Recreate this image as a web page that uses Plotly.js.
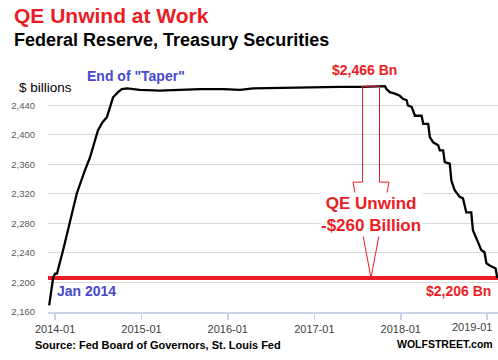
<!DOCTYPE html>
<html><head><meta charset="utf-8">
<script src="https://cdn.plot.ly/plotly-3.0.1.min.js"></script>
<style>html,body{margin:0;padding:0;background:#fff;}#chart{width:498px;height:360px;}</style>
</head><body><div id="chart"></div>
<script>
// Fed holdings of Treasury securities, $ billions
const dates = [
  '2013-12-07','2013-12-24','2014-01-01','2014-01-09','2014-02-04','2014-03-05','2014-04-03',
  '2014-05-07','2014-05-28','2014-07-01','2014-07-20','2014-08-08','2014-09-03','2014-09-24',
  '2014-10-10','2014-11-01','2014-12-25','2015-03-19','2015-06-12','2015-09-05','2015-12-15',
  '2016-02-22','2016-04-17','2016-09-07','2017-01-25','2017-04-20','2017-07-20','2017-10-26',
  '2017-11-02','2017-11-16','2017-12-07','2017-12-28','2018-01-10','2018-01-26','2018-01-31',
  '2018-02-16','2018-03-02','2018-03-30','2018-04-06','2018-04-27','2018-05-04','2018-05-18',
  '2018-06-08','2018-06-15','2018-06-29','2018-07-06','2018-07-27','2018-08-03','2018-08-17',
  '2018-09-07','2018-09-21','2018-10-05','2018-10-26','2018-11-02','2018-11-23','2018-12-07',
  '2018-12-21','2018-12-29','2019-01-12','2019-01-26','2019-02-06','2019-02-13'
];
const treasuries = [
  2169,2207,2212,2212,2244,2284,2321,
  2352,2369,2406,2417,2424,2451,2458,
  2462,2463,2461,2460,2461,2462,2462,
  2461,2463,2464,2464,2465,2465,2466,
  2462,2458,2456,2453,2449,2447,2440,
  2438,2426,2426,2415,2415,2397,2390,
  2386,2379,2379,2363,2361,2338,2325,
  2316,2314,2295,2295,2271,2255,2244,
  2241,2226,2223,2221,2219,2206
];
const yTickVals = [2160,2200,2240,2280,2320,2360,2400,2440];
const xTickVals = ['2014-01-01','2015-01-01','2016-01-01','2017-01-01','2018-01-01','2019-01-01'];
const xTickText = ['2014-01','2015-01','2016-01','2017-01','2018-01','2019-01'];

const peak = Math.max(...treasuries);
const last = treasuries[treasuries.length-1];
const headTop = last + (peak-last)*0.5;

const RED = '#ec1c24', BLUE = '#4848cf';
const F = 'Liberation Sans, Arial, sans-serif';
const XTICKFONT = {family: F, size: 11, color: '#404040'};

const trace = {
  x: dates, y: treasuries, type: 'scatter', mode: 'lines',
  line: {color: '#000', width: 2.3}, hoverinfo: 'skip'
};

const ann = (text, x, y, size, color, xanchor, extra) => Object.assign({
  text, x, y, xref: 'paper', yref: 'paper', showarrow: false,
  xanchor: xanchor || 'center', yanchor: 'middle',
  font: {family: F, size, color}
}, extra || {});

// the last tick label is pulled inside the chart edge, as in the original
const shownTickText = xTickText.map((t, i) => i === xTickText.length - 1 ? '' : t);
const lastTickAnn = Object.assign(ann(xTickText[xTickText.length - 1], 0.992, -0.063, 11, '#404040', 'right'), {font: XTICKFONT});

const layout = {
  width: 498, height: 360,
  margin: {l: 48, r: 0, t: 77, b: 48, pad: 0},
  paper_bgcolor: '#fff', plot_bgcolor: '#fff',
  showlegend: false,
  xaxis: {
    type: 'date', range: ['2013-12-02','2019-02-16'],
    tickvals: xTickVals, ticktext: shownTickText,
    showgrid: false, zeroline: false,
    showline: true, linecolor: '#c9d3e5', linewidth: 1.5,
    ticks: 'outside', ticklen: 6, tickcolor: '#c9d3e5', tickwidth: 1.5,
    ticklabeloverflow: 'allow',
    tickfont: XTICKFONT
  },
  yaxis: {
    range: [2160, 2478.5], tickvals: yTickVals, tickformat: ',d',
    showgrid: true, gridcolor: '#d9d9d9', gridwidth: 1, zeroline: false,
    showline: false, ticks: 'outside', ticklen: 10, tickcolor: 'rgba(0,0,0,0)',
    tickfont: {family: F, size: 9.5, color: '#595959'}
  },
  shapes: [
    {type: 'line', xref: 'paper', yref: 'y', x0: 0, x1: 1, y0: last, y1: last,
     line: {color: RED, width: 4}, layer: 'below'},
    {type: 'path', xref: 'paper', yref: 'y', xsizemode: 'pixel', xanchor: 0.7178,
     path: `M -8.5,${peak} L -8.5,${headTop} L -18,${headTop} L 0,${last} L 18,${headTop} L 8.5,${headTop} L 8.5,${peak} Z`,
     line: {color: RED, width: 1}, fillcolor: 'rgba(0,0,0,0)', layer: 'above'}
  ],
  annotations: [
    ann('<b>QE Unwind at Work</b>', -0.08, 1.262, 21, RED, 'left'),
    ann('<b>Federal Reserve, Treasury Securities</b>', -0.08, 1.158, 18, '#000', 'left'),
    ann('$ billions', -0.068, 0.955, 13.5, '#000', 'left'),
    ann('<b>End of "Taper"</b>', 0.196, 1.006, 14, BLUE),
    ann('<b>$2,466 Bn</b>', 0.703, 1.028, 14, RED),
    ann('<b>QE Unwind<br>-$260 Billion</b>', 0.7178, 0.413, 17, RED, 'center', {bgcolor: '#fff', borderpad: 1}),
    ann('<b>Jan 2014</b>', 0.0156, 0.089, 14, BLUE, 'left'),
    ann('<b>$2,206 Bn</b>', 0.989, 0.089, 14, RED, 'right'),
    ann('<b>Source: Fed Board of Governors, St. Louis Fed</b>', -0.0333, -0.14, 11, '#000', 'left'),
    ann('<b>WOLFSTREET.com</b>', 0.993, -0.136, 10.5, '#000', 'right'),
    lastTickAnn
  ]
};

Plotly.newPlot('chart', [trace], layout, {staticPlot: true, displayModeBar: false});
</script>
</body></html>
